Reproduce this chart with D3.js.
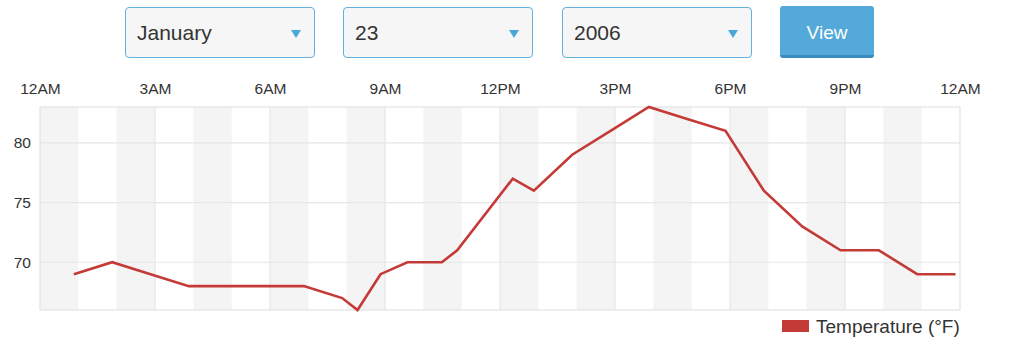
<!DOCTYPE html>
<html>
<head>
<meta charset="utf-8">
<script src="https://cdn.jsdelivr.net/npm/d3@7"></script>
<style>
  body { margin: 0; background: #fff; font-family: "Helvetica Neue", Helvetica, Arial, "Liberation Sans", sans-serif; color: #333; }
  #wrap { position: relative; width: 1024px; height: 337px; overflow: hidden; }
  .sel { position: absolute; top: 7px; height: 49px; width: 188px; border: 1px solid #62b0dc; border-radius: 4px;
         background: #f6f6f6; box-sizing: content-box; }
  .sel span { position: absolute; left: 11px; top: 13px; font-size: 21px; color: #333; }
  .sel i { position: absolute; right: 13px; top: 22px; width: 0; height: 0;
           border-left: 5px solid transparent; border-right: 5px solid transparent; border-top: 8px solid #4aa8d8; }
  #btn { position: absolute; left: 780px; top: 6px; width: 94px; height: 49px; background: #52a9da;
         border-bottom: 3px solid #3a8cbf; border-radius: 3px; color: #fff; font-size: 19px;
         text-align: center; line-height: 53px; }
  svg { position: absolute; left: 0; top: 0; }
</style>
</head>
<body>
<div id="wrap">
  <div id="chart"></div>
</div>
<script>
// Temperature readings for the selected day
const times = ["00:53", "01:53", "02:53", "03:53", "04:53", "05:53", "06:53", "07:53", "08:17", "08:53",
               "09:35", "10:29", "10:53", "12:20", "12:53", "13:53", "14:53", "15:53", "16:53", "17:53",
               "18:53", "19:53", "20:53", "21:53", "22:53", "23:53"];
const temps = [69, 70, 69, 68, 68, 68, 68, 67, 66, 69,
               70, 70, 71, 77, 76, 79, 81, 83, 82, 81,
               76, 73, 71, 71, 69, 69];
const hourTicks = [0, 3, 6, 9, 12, 15, 18, 21, 24];
const hourLabels = ["12AM", "3AM", "6AM", "9AM", "12PM", "3PM", "6PM", "9PM", "12AM"];
const shadedHours = [0, 2, 4, 6, 8, 10, 12, 14, 16, 18, 20, 22];
const tempTicks = [70, 75, 80];
const selects = ["January", "23", "2006"];
const seriesName = "Temperature (°F)";

const wrap = d3.select("#wrap");
const selLeft = [125, 343, 562];
selects.forEach((s, i) => {
  const d = wrap.append("div").attr("class", "sel").style("left", selLeft[i] + "px");
  d.append("span").text(s);
  d.append("i");
});
wrap.append("div").attr("id", "btn").text("View");

const W = 1024, H = 337;
const plot = { left: 40, right: 960, top: 107, bottom: 310 };
const lineColor = "#c43a37";

const svg = d3.select("#chart").append("svg").attr("width", W).attr("height", H);

const hour = t => { const [h, m] = t.split(":").map(Number); return h + m / 60; };
const x = d3.scaleLinear().domain([0, 24]).range([plot.left, plot.right]);
const y = d3.scaleLinear().domain([d3.min(temps), d3.max(temps)]).range([plot.bottom, plot.top]);

// alternating hour bands
svg.append("g").selectAll("rect")
  .data(shadedHours)
  .join("rect")
  .attr("x", d => x(d))
  .attr("width", d => x(d + 1) - x(d))
  .attr("y", plot.top)
  .attr("height", plot.bottom - plot.top)
  .attr("fill", "#f4f4f4");

// grid
const grid = svg.append("g").attr("stroke", "#e6e6e6").attr("stroke-width", 1.2);
grid.selectAll(".h").data(tempTicks).join("line")
  .attr("x1", plot.left).attr("x2", plot.right)
  .attr("y1", d => y(d)).attr("y2", d => y(d));
grid.selectAll(".v").data(hourTicks.slice(1, -1)).join("line")
  .attr("y1", plot.top).attr("y2", plot.bottom)
  .attr("x1", d => x(d)).attr("x2", d => x(d));
svg.append("rect")
  .attr("x", plot.left).attr("y", plot.top)
  .attr("width", plot.right - plot.left).attr("height", plot.bottom - plot.top)
  .attr("fill", "none").attr("stroke", "#e3e3e3").attr("stroke-width", 1.2);

// axes
const xAxis = svg.append("g")
  .attr("transform", `translate(0,${plot.top})`)
  .call(d3.axisTop(x).tickValues(hourTicks).tickFormat((d, i) => hourLabels[i]).tickSize(0).tickPadding(13));
const yAxis = svg.append("g")
  .attr("transform", `translate(${plot.left},0)`)
  .call(d3.axisLeft(y).tickValues(tempTicks).tickSize(0).tickPadding(9));
[xAxis, yAxis].forEach(g => {
  g.select(".domain").remove();
  g.selectAll("text").attr("font-size", 15.5).attr("fill", "#333")
    .attr("font-family", "'Helvetica Neue', Helvetica, Arial, 'Liberation Sans', sans-serif");
});

// temperature line
const line = d3.line()
  .x((d, i) => x(hour(times[i])))
  .y(d => y(d));
svg.append("path")
  .datum(temps)
  .attr("fill", "none")
  .attr("stroke", lineColor)
  .attr("stroke-width", 2.6)
  .attr("stroke-linejoin", "miter")
  .attr("d", line);

// legend
const legend = svg.append("g").attr("transform", "translate(782,320)");
legend.append("rect").attr("width", 27).attr("height", 12).attr("fill", lineColor);
legend.append("text").attr("x", 34).attr("y", 12.5)
  .attr("font-size", 19).attr("fill", "#333")
  .text(seriesName);
</script>
</body>
</html>
